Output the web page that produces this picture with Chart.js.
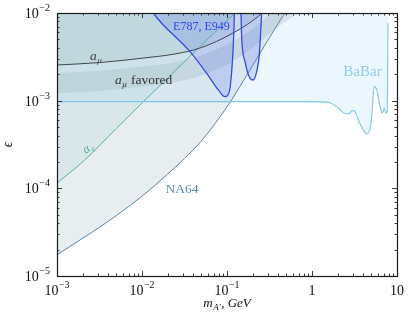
<!DOCTYPE html>
<html>
<head>
<meta charset="utf-8">
<script src="https://cdn.jsdelivr.net/npm/chart.js@4"></script>
<style>
  html, body { margin: 0; padding: 0; background: #fff; }
  #wrap { width: 416px; height: 320px; }
</style>
</head>
<body>
<div id="wrap"><canvas id="limits"></canvas></div>
<script>
// tick labels
const massTicks = [0.001, 0.01, 0.1, 1, 10];
const massTickBase = ['10', '10', '10', '1', '10'];
const massTickExp = ['−3', '−2', '−1', '', ''];
const epsTicks = [1e-5, 1e-4, 1e-3, 1e-2];
const epsTickBase = ['10', '10', '10', '10'];
const epsTickExp = ['−5', '−4', '−3', '−2'];

// NA64 limit
const na64Mass = [0.001, 0.002, 0.00316, 0.005, 0.01, 0.02, 0.0316, 0.05, 0.1, 0.2, 0.316, 0.48, 0.65];
const na64Eps = [1.74e-5, 2.69e-5, 3.59e-5, 4.9e-5, 8.13e-5, 1.45e-4, 2.19e-4, 3.47e-4, 8.51e-4, 2.51e-3, 5.25e-3, 1.0e-2, 1.58e-2];

// electron g-2
const alphaMass = [0.001, 0.00213, 0.005, 0.0103, 0.0251, 0.063, 0.124, 0.158];
const alphaEps = [1.15e-4, 2.11e-4, 4.83e-4, 9.66e-4, 2.24e-3, 5.32e-3, 1.0e-2, 1.26e-2];

// muon g-2 exclusion
const amuMass = [0.001, 0.00316, 0.01, 0.0244, 0.048, 0.118, 0.258, 0.35];
const amuEps = [2.55e-3, 2.72e-3, 3.05e-3, 3.41e-3, 3.98e-3, 5.92e-3, 1.0e-2, 1.41e-2];

// muon g-2 favored band
const favMass = [0.001, 0.00316, 0.01, 0.0244, 0.048, 0.118, 0.258, 0.35, 0.5, 0.72, 1.0];
const favHigh = [2.07e-3, 2.19e-3, 2.45e-3, 2.75e-3, 3.24e-3, 4.79e-3, 8.13e-3, 1.15e-2, 1.78e-2, 2.8e-2, 4e-2];
const favLow = [1.22e-3, 1.29e-3, 1.45e-3, 1.62e-3, 1.91e-3, 2.82e-3, 4.9e-3, 6.3e-3, 8.13e-3, 1.0e-2, 1.26e-2];

// BaBar
const babarMass = [0.001, 0.723, 1.3, 1.63, 1.95, 2.34, 2.67, 3.01, 3.21, 3.51, 4.02, 4.40, 4.81, 5.12, 5.36, 5.77, 6.31, 6.71, 7.10, 7.43, 7.69, 7.83];
const babarEps = [9.75e-4, 9.75e-4, 9.7e-4, 9.48e-4, 8.55e-4, 7.3e-4, 7.05e-4, 7.69e-4, 7.5e-4, 6.03e-4, 4.63e-4, 4.17e-4, 4.84e-4, 7.83e-4, 1.445e-3, 1.325e-3, 8.55e-4, 7.18e-4, 8.18e-4, 7.18e-4, 7.83e-4, 7.63e-3];

// E787, E949
const e787Mass = [0.0125, 0.01358, 0.0367, 0.0577, 0.079, 0.0947, 0.1064, 0.1135, 0.1186, 0.122, 0.1228, 0.1435, 0.146, 0.149, 0.163, 0.1866, 0.204, 0.2234, 0.2398, 0.249, 0.256, 0.258];
const e787Eps = [1.15e-2, 1.0e-2, 3.62e-3, 2.05e-3, 1.325e-3, 1.11e-3, 1.27e-3, 2.14e-3, 4.31e-3, 9.5e-3, 1.4e-2, 1.4e-2, 1.03e-2, 5.15e-3, 2.79e-3, 1.8e-3, 1.72e-3, 2.14e-3, 3.32e-3, 6.12e-3, 1.03e-2, 1.3e-2];

function pts(xs, ys) {
  return xs.map((x, i) => ({x: x, y: ys[i]}));
}

const SERIF = '"Liberation Serif", "DejaVu Serif", serif';

// power of ten label: "10" with a raised exponent
function powLabel(ctx, x, y, base, exp, align) {
  ctx.font = '14px ' + SERIF;
  const wb = ctx.measureText(base).width;
  ctx.font = '10px ' + SERIF;
  const we = exp ? ctx.measureText(exp).width + 0.5 : 0;
  let x0 = x - (wb + we) / 2;
  if (align === 'right') x0 = x - wb - we;
  ctx.textAlign = 'left';
  ctx.font = '14px ' + SERIF;
  ctx.fillText(base, x0, y);
  if (exp) {
    ctx.font = '10px ' + SERIF;
    ctx.fillText(exp, x0 + wb + 0.5, y - 7);
  }
}

// italic symbol with subscript, returns width
function subLabel(ctx, x, y, sym, sub, size, color) {
  ctx.fillStyle = color;
  ctx.textAlign = 'left';
  ctx.font = 'italic ' + size + 'px ' + SERIF;
  ctx.fillText(sym, x, y);
  const w = ctx.measureText(sym).width;
  ctx.font = 'italic ' + Math.round(size * 0.7) + 'px ' + SERIF;
  ctx.fillText(sub, x + w + 0.5, y + 3);
  return w + 0.5 + ctx.measureText(sub).width;
}

const decor = {
  id: 'decor',
  afterDraw(chart) {
    const {ctx, chartArea: {left, right, top, bottom}} = chart;
    const xs = chart.scales.x, ys = chart.scales.y;
    ctx.save();

    // inward ticks on all four sides
    ctx.strokeStyle = '#222';
    ctx.lineWidth = 0.9;
    ctx.beginPath();
    for (let e = -3; e <= 1; e++) {
      for (let k = 1; k <= 9; k++) {
        const v = k * Math.pow(10, e);
        if (v < xs.min * 0.999 || v > xs.max * 1.001) continue;
        const p = Math.round(xs.getPixelForValue(v)) + 0.5;
        const len = k === 1 ? 5 : 2.5;
        ctx.moveTo(p, bottom); ctx.lineTo(p, bottom - len);
        ctx.moveTo(p, top); ctx.lineTo(p, top + len);
      }
    }
    for (let e = -5; e <= -2; e++) {
      for (let k = 1; k <= 9; k++) {
        const v = k * Math.pow(10, e);
        if (v < ys.min * 0.999 || v > ys.max * 1.001) continue;
        const p = Math.round(ys.getPixelForValue(v)) + 0.5;
        const len = k === 1 ? 5 : 2.5;
        ctx.moveTo(left, p); ctx.lineTo(left + len, p);
        ctx.moveTo(right, p); ctx.lineTo(right - len, p);
      }
    }
    ctx.stroke();

    // frame
    ctx.lineWidth = 1.2;
    ctx.strokeStyle = '#1a1a1a';
    ctx.strokeRect(Math.round(left) + 0.5, Math.round(top) + 0.5, Math.round(right - left), Math.round(bottom - top));

    // tick labels
    ctx.fillStyle = '#111';
    ctx.textBaseline = 'alphabetic';
    massTicks.forEach((v, i) => {
      powLabel(ctx, xs.getPixelForValue(v), bottom + 19, massTickBase[i], massTickExp[i], 'center');
    });
    epsTicks.forEach((v, i) => {
      powLabel(ctx, left - 7, ys.getPixelForValue(v) + 5, epsTickBase[i], epsTickExp[i], 'right');
    });

    // axis titles
    ctx.fillStyle = '#111';
    const cx = (left + right) / 2;
    ctx.font = 'italic 13px ' + SERIF;
    const wm = ctx.measureText('m').width;
    ctx.font = 'italic 9px ' + SERIF;
    const wa = ctx.measureText('A′').width;
    ctx.font = 'italic 13px ' + SERIF;
    const wg = ctx.measureText(', GeV').width;
    let tx = cx - (wm + wa + wg + 1) / 2;
    ctx.textAlign = 'left';
    ctx.fillText('m', tx, 307);
    ctx.font = 'italic 9px ' + SERIF;
    ctx.fillText('A′', tx + wm + 0.5, 310);
    ctx.font = 'italic 13px ' + SERIF;
    ctx.fillText(', GeV', tx + wm + wa + 1, 307);

    ctx.save();
    ctx.translate(12, (top + bottom) / 2);
    ctx.rotate(-Math.PI / 2);
    ctx.textAlign = 'center';
    ctx.font = 'italic 14px ' + SERIF;
    ctx.fillText('ϵ', 0, 0);
    ctx.restore();

    // region labels
    ctx.textAlign = 'center';
    ctx.font = '13.5px ' + SERIF;
    ctx.fillStyle = '#5d8db0';
    ctx.fillText('NA64', xs.getPixelForValue(0.0296), ys.getPixelForValue(8.87e-5));
    ctx.font = '15px ' + SERIF;
    ctx.fillStyle = '#8dcdf0';
    ctx.fillText('BaBar', xs.getPixelForValue(3.93), ys.getPixelForValue(1.93e-3));
    ctx.textAlign = 'left';
    ctx.font = '12px ' + SERIF;
    ctx.fillStyle = '#2f46ee';
    ctx.fillText('E787, E949', xs.getPixelForValue(0.0232), ys.getPixelForValue(6.4e-3));

    subLabel(ctx, xs.getPixelForValue(2.44e-3), ys.getPixelForValue(2.91e-3), 'a', 'μ', 13.5, '#3d3d3d');
    const fx = xs.getPixelForValue(4.81e-3), fy = ys.getPixelForValue(1.55e-3);
    const w = subLabel(ctx, fx, fy, 'a', 'μ', 13.5, '#333');
    ctx.font = '13.5px ' + SERIF;
    ctx.fillText(' favored', fx + w + 1, fy);

    ctx.save();
    ctx.translate(xs.getPixelForValue(2.38e-3), ys.getPixelForValue(2.89e-4));
    ctx.rotate(-0.66);
    subLabel(ctx, -6, 3, 'α', 'e', 12, '#4aae98');
    ctx.restore();

    ctx.restore();
  }
};

new Chart('limits', {
  type: 'line',
  data: {
    datasets: [{
      label: 'E787, E949',
      data: pts(e787Mass, e787Eps),
      borderColor: '#3349ee',
      borderWidth: 1.3,
      backgroundColor: 'rgba(70, 100, 240, 0.2)',
      fill: 'end'
    }, {
      label: 'BaBar',
      data: pts(babarMass, babarEps),
      borderColor: '#7cc6ec',
      borderWidth: 1.1,
      backgroundColor: 'rgba(130, 195, 240, 0.15)',
      fill: 'end'
    }, {
      label: 'a_mu',
      data: pts(amuMass, amuEps),
      borderColor: '#3e464b',
      backgroundColor: 'rgba(110, 120, 125, 0.12)',
      fill: 'end'
    }, {
      label: 'alpha_e',
      data: pts(alphaMass, alphaEps),
      borderColor: '#52b39c',
      backgroundColor: 'rgba(60, 170, 140, 0.08)',
      fill: 'end'
    }, {
      label: 'NA64',
      data: pts(na64Mass, na64Eps),
      borderColor: '#5a86a8',
      backgroundColor: 'rgba(95, 130, 150, 0.14)',
      fill: 'end'
    }, {
      label: 'favored high',
      data: pts(favMass, favHigh),
      borderWidth: 0,
      borderColor: 'rgba(0,0,0,0)',
      fill: false
    }, {
      label: 'a_mu favored',
      data: pts(favMass, favLow),
      borderWidth: 0,
      borderColor: 'rgba(0,0,0,0)',
      backgroundColor: 'rgba(115, 125, 130, 0.17)',
      fill: '-1'
    }]
  },
  options: {
    responsive: true,
    maintainAspectRatio: false,
    animation: false,
    layout: {padding: {top: 13, right: 19, left: 0, bottom: 0}},
    elements: {
      point: {radius: 0},
      line: {borderWidth: 1, cubicInterpolationMode: 'monotone'}
    },
    plugins: {
      legend: {display: false},
      tooltip: {enabled: false},
      filler: {drawTime: 'beforeDatasetsDraw'}
    },
    scales: {
      x: {
        type: 'logarithmic',
        min: 0.001,
        max: 10,
        grid: {display: false, drawTicks: false},
        border: {display: false},
        ticks: {display: false},
        afterFit(s) { s.height = 44; }
      },
      y: {
        type: 'logarithmic',
        min: 1e-5,
        max: 1e-2,
        grid: {display: false, drawTicks: false},
        border: {display: false},
        ticks: {display: false},
        afterFit(s) { s.width = 57; }
      }
    }
  },
  plugins: [decor]
});
</script>
</body>
</html>
